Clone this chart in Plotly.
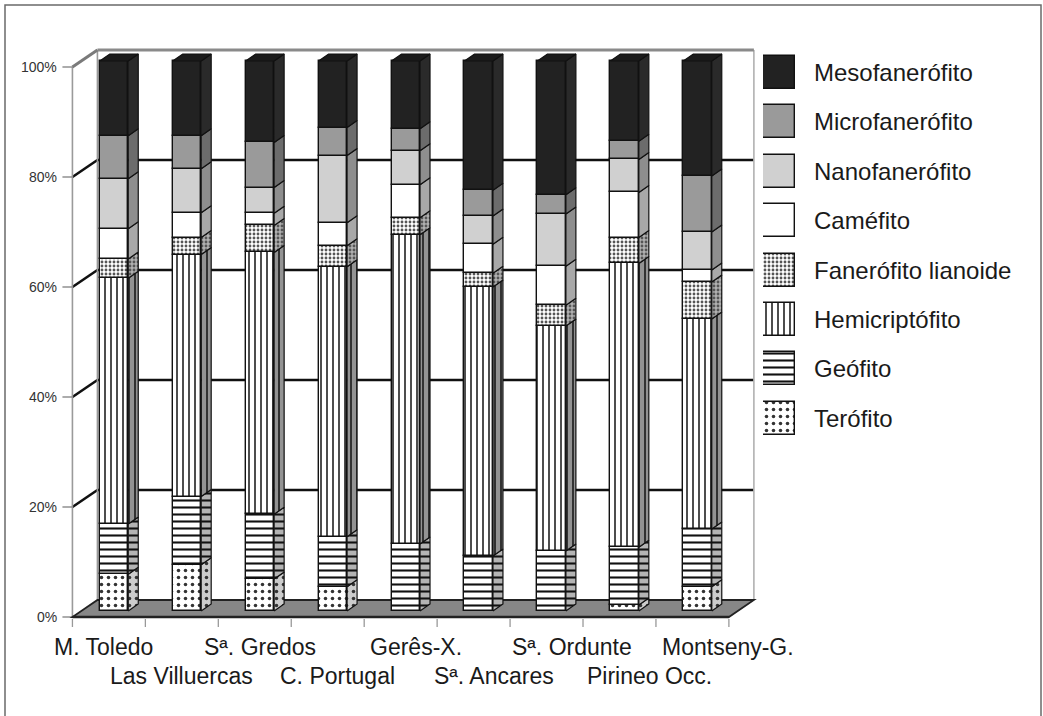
import numpy as np
import plotly.graph_objects as go

# ---------------- data ----------------
categories = ["M. Toledo", "Las Villuercas", "Sª. Gredos", "C. Portugal", "Gerês-X.",
              "Sª. Ancares", "Sª. Ordunte", "Pirineo Occ.", "Montseny-G."]

terofito       = [6.7, 8.4, 5.8, 4.4, 0.0, 0.0, 0.0, 1.1, 4.4]
geofito        = [9.1, 12.4, 11.8, 9.1, 12.2, 10.0, 10.9, 10.5, 10.5]
hemicriptofito = [44.7, 44.0, 47.6, 49.1, 56.2, 48.9, 40.9, 51.6, 38.2]
fan_lianoide   = [3.5, 3.1, 4.9, 3.8, 3.1, 2.5, 3.8, 4.7, 6.7]
camefito       = [5.5, 4.5, 2.2, 4.2, 6.0, 5.3, 7.1, 8.2, 2.2]
nanofanerofito = [9.1, 8.0, 4.7, 12.2, 6.2, 5.1, 9.5, 6.0, 6.9]
microfanerofito = [7.8, 6.0, 8.2, 5.1, 4.0, 4.7, 3.5, 3.3, 10.2]
mesofanerofito = [13.6, 13.6, 14.8, 12.1, 12.3, 23.5, 24.3, 14.6, 20.9]

y_ticks = [0, 20, 40, 60, 80, 100]
y_tick_labels = ["0%", "20%", "40%", "60%", "80%", "100%"]

# bottom -> top stacking order
series_names = ["Terófito", "Geófito", "Hemicriptófito", "Fanerófito lianoide",
                "Caméfito", "Nanofanerófito", "Microfanerófito", "Mesofanerófito"]
series_values = [terofito, geofito, hemicriptofito, fan_lianoide,
                 camefito, nanofanerofito, microfanerofito, mesofanerofito]

# ---------------- styles ----------------
STY = {
    "Terófito": dict(front="white", side="#cccccc", pat=dict(shape=".", size=7, solidity=0.2, fg="#333")),
    "Geófito": dict(front="white", side="#b4b4b4", pat=dict(shape="-", size=7, solidity=0.3, fg="#111")),
    "Hemicriptófito": dict(front="white", side="#939393", pat=dict(shape="|", size=6, solidity=0.25, fg="#111")),
    "Fanerófito lianoide": dict(front="white", side="#b0b0b0", pat=dict(shape=".", size=4, solidity=0.4, fg="#555")),
    "Caméfito": dict(front="white", side="#a8a8a8", pat=None),
    "Nanofanerófito": dict(front="#d0d0d0", side="#8e8e8e", pat=None),
    "Microfanerófito": dict(front="#9a9a9a", side="#6c6c6c", pat=None),
    "Mesofanerófito": dict(front="#222222", side="#2a2a2a", pat=None),
}

FONT = "Liberation Sans, Arial, sans-serif"
W, H = 1043, 716

# pixel scale of the plot (bar plane)
PX_X, PX_Y = 72.94, 5.5
X0_PX, Y0_PX = 114.0, 611.0
x_range = [-X0_PX / PX_X, (W - X0_PX) / PX_X]
y_range = [-(H - Y0_PX) / PX_Y, Y0_PX / PX_Y]

# depth offsets (data units) relative to bar front plane
FRONT = (-8.75 / PX_X, -6.0 / PX_Y)
BACK = (16.25 / PX_X, 11.0 / PX_Y)
BDX, BDY = 10.0 / PX_X, 7.0 / PX_Y
BAR_W = 28.5 / PX_X
XL, XR = -0.45, 8.55

fig = go.Figure()
n = len(categories)
xpos = np.arange(n, dtype=float)

def pattern(p, bg):
    if p is None:
        return None
    return dict(shape=p["shape"], size=p["size"], solidity=p["solidity"],
                fgcolor=p["fg"], bgcolor=bg, fillmode="replace")

base = np.zeros(n)
for name, vals in zip(series_names, series_values):
    v = np.array(vals, dtype=float)
    st = STY[name]
    mk = dict(color=st["front"], line=dict(color="#111", width=1.4))
    pt = pattern(st["pat"], st["front"])
    if pt:
        mk["pattern"] = pt
    fig.add_trace(go.Bar(x=xpos, y=v, base=base, width=BAR_W, marker=mk,
                         name=name, showlegend=False, hoverinfo="skip"))
    xs, ys = [], []
    for i in range(n):
        if v[i] <= 0:
            continue
        xr = xpos[i] + BAR_W / 2
        y0, y1 = base[i], base[i] + v[i]
        xs += [xr, xr + BDX, xr + BDX, xr, xr, None]
        ys += [y0, y0 + BDY, y1 + BDY, y1, y0, None]
    sc = dict(x=xs, y=ys, mode="lines", fill="toself", fillcolor=st["side"],
              line=dict(color="#111", width=1.2), showlegend=False, hoverinfo="skip")
    sp = pattern(st["pat"], st["side"])
    if sp:
        sc["fillpattern"] = sp
    fig.add_trace(go.Scatter(**sc))
    base = base + v

# top faces of the bars
xs, ys = [], []
for i in range(n):
    xl, xr = xpos[i] - BAR_W / 2, xpos[i] + BAR_W / 2
    t = base[i]
    xs += [xl, xl + BDX, xr + BDX, xr, xl, None]
    ys += [t, t + BDY, t + BDY, t, t, None]
fig.add_trace(go.Scatter(x=xs, y=ys, mode="lines", fill="toself", fillcolor="#1c1c1c",
                         line=dict(color="#111", width=1.2), showlegend=False, hoverinfo="skip"))

# ---------------- walls, floor, grid ----------------
shapes = []
def line(x0, y0, x1, y1, color, width):
    shapes.append(dict(type="line", xref="x", yref="y", x0=x0, y0=y0, x1=x1, y1=y1,
                       line=dict(color=color, width=width), layer="below"))

ymax = y_ticks[-1]
# gridlines: side wall (slanted) + back wall (horizontal)
for v in y_ticks[1:-1]:
    line(XL + FRONT[0], v + FRONT[1], XL + BACK[0], v + BACK[1], "#111", 2.6)
    line(XL + BACK[0], v + BACK[1], XR + BACK[0], v + BACK[1], "#111", 2.3)
# wall edges
line(XL + FRONT[0], FRONT[1], XL + FRONT[0], ymax + FRONT[1], "#9a9a9a", 1.6)
line(XL + BACK[0], BACK[1], XL + BACK[0], ymax + BACK[1], "#9a9a9a", 1.6)
line(XR + BACK[0], BACK[1], XR + BACK[0], ymax + BACK[1], "#b0b0b0", 1.6)
line(XL + FRONT[0], ymax + FRONT[1], XL + BACK[0], ymax + BACK[1], "#7a7a7a", 3)
line(XL + BACK[0], ymax + BACK[1], XR + BACK[0], ymax + BACK[1], "#8a8a8a", 3)
# y ticks
for v in y_ticks:
    line(XL + FRONT[0] - 10 / PX_X, v + FRONT[1], XL + FRONT[0], v + FRONT[1], "#888", 1.4)
# floor
fl = [(XL + FRONT[0], FRONT[1]), (XR + FRONT[0], FRONT[1]),
      (XR + BACK[0], BACK[1]), (XL + BACK[0], BACK[1])]
path = "M " + " L ".join(f"{a},{b}" for a, b in fl) + " Z"
shapes.append(dict(type="path", xref="x", yref="y", path=path, fillcolor="#878787",
                   line=dict(color="#222", width=1.8), layer="below"))
line(XL + FRONT[0], FRONT[1], XR + FRONT[0], FRONT[1], "#222", 2.6)
# x ticks (category boundaries)
for k in range(n + 1):
    xb = XL + k + FRONT[0]
    line(xb, FRONT[1] - 2 / PX_Y, xb, FRONT[1] - 10 / PX_Y, "#999", 1.3)

# outer frame
shapes.append(dict(type="rect", xref="paper", yref="paper", x0=5 / W, x1=1041 / W,
                   y0=-0.02, y1=1 - 5 / H, line=dict(color="#6a6a6a", width=1.5),
                   fillcolor="rgba(0,0,0,0)", layer="below"))

annotations = []
# y tick labels
for v, lab in zip(y_ticks, y_tick_labels):
    annotations.append(dict(xref="x", yref="y", x=XL + FRONT[0] - 13 / PX_X, y=v + FRONT[1],
                            text=lab, showarrow=False, xanchor="right", yanchor="middle",
                            font=dict(family=FONT, size=14, color="#333")))
# category labels (staggered in two rows)
ROW_Y = [(Y0_PX - 646.5) / PX_Y, (Y0_PX - 675.5) / PX_Y]
for i, c in enumerate(categories):
    annotations.append(dict(xref="x", yref="y", x=4.135 + (i - 4) * 1.069, y=ROW_Y[i % 2],
                            text=c, showarrow=False, xanchor="center", yanchor="middle",
                            font=dict(family=FONT, size=23, color="#1a1a1a")))

# ---------------- custom legend (boxes drawn as bars on a second axis) ----------------
LEG_TOP_PX, LEG_STEP = 72.5, 49.4
BOX = 33 / LEG_STEP
legend_order = series_names[::-1]
for k, name in enumerate(legend_order):
    st = STY[name]
    mk = dict(color=st["front"], line=dict(color="#111", width=1.4))
    pt = pattern(st["pat"], st["front"])
    if pt:
        mk["pattern"] = pt
    fig.add_trace(go.Bar(x=[0], y=[BOX], base=[k - BOX / 2], width=1.0, marker=mk,
                         xaxis="x2", yaxis="y2", showlegend=False, hoverinfo="skip"))
    annotations.append(dict(xref="paper", yref="y2", x=812 / W, y=k, text=name,
                            showarrow=False, xanchor="left", yanchor="middle",
                            font=dict(family=FONT, size=24, color="#1a1a1a")))

fig.update_layout(
    width=W, height=H, autosize=False,
    margin=dict(l=0, r=0, t=0, b=0),
    paper_bgcolor="white", plot_bgcolor="rgba(0,0,0,0)",
    barmode="overlay", bargap=0,
    xaxis=dict(range=x_range, visible=False, domain=[0, 1], fixedrange=True),
    yaxis=dict(range=y_range, visible=False, domain=[0, 1], fixedrange=True),
    xaxis2=dict(range=[-0.5, 0.5], domain=[763 / W, 795 / W], visible=False,
                anchor="y2", fixedrange=True),
    yaxis2=dict(range=[(H - LEG_TOP_PX) / LEG_STEP, -LEG_TOP_PX / LEG_STEP], domain=[0, 1],
                visible=False, anchor="x2", fixedrange=True),
    shapes=shapes, annotations=annotations, showlegend=False,
)

fig.write_html("out.html", config={"displayModeBar": False},
               post_script="document.body.style.margin='0';document.body.style.overflow='hidden';")
